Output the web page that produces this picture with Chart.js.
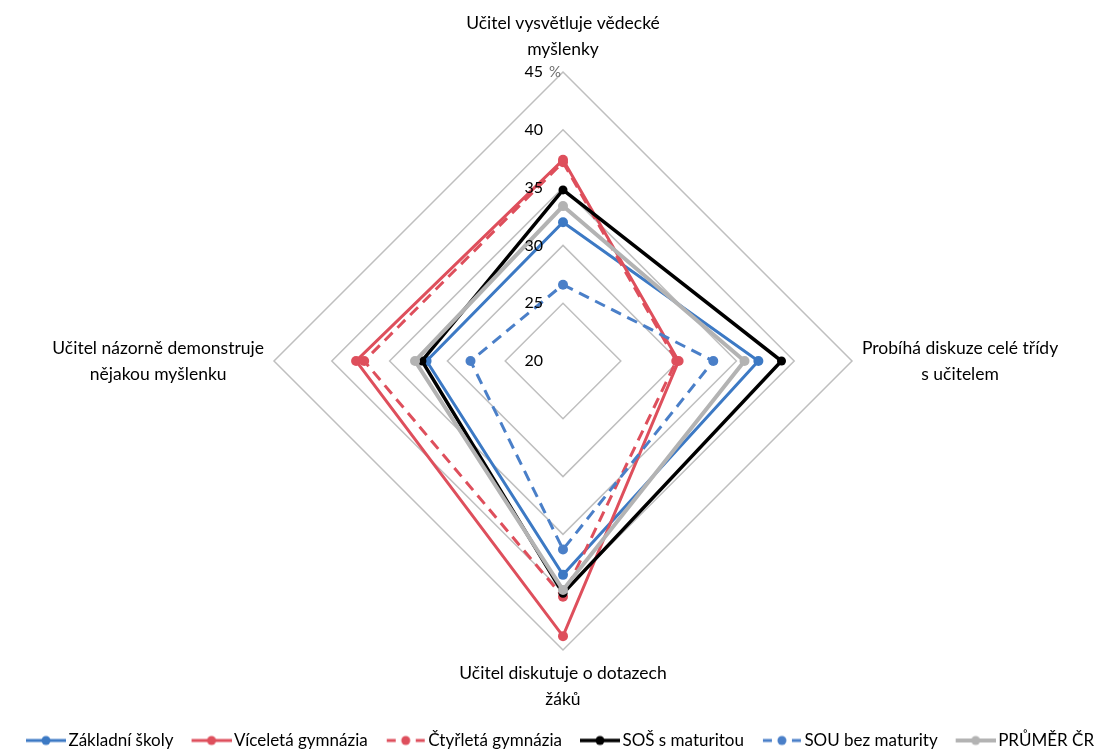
<!DOCTYPE html>
<html lang="cs">
<head>
<meta charset="utf-8">
<title>Radar</title>
<script src="https://cdn.jsdelivr.net/npm/chart.js@4.4.1/dist/chart.umd.min.js"></script>
<style>
  html, body { margin: 0; padding: 0; background: #fff; }
  canvas { display: block; }
</style>
</head>
<body>
<canvas id="radarChart" width="1119" height="751"></canvas>
<script>
const axisLabels = [
  ['Učitel vysvětluje vědecké', 'myšlenky'],
  ['Probíhá diskuze celé třídy', 's učitelem'],
  ['Učitel diskutuje o dotazech', 'žáků'],
  ['Učitel názorně demonstruje', 'nějakou myšlenku']
];
const tickValues = [20, 25, 30, 35, 40, 45];
const unitLabel = '%';

const seriesNames = ['Základní školy', 'Víceletá gymnázia', 'Čtyřletá gymnázia',
  'SOŠ s maturitou', 'SOU bez maturity', 'PRŮMĚR ČR'];
const zakladniSkoly = [32.0, 36.9, 38.5, 31.8];
const viceletaGymnazia = [37.4, 30.0, 43.8, 37.9];
const ctyrletaGymnazia = [37.2, 29.8, 40.4, 37.2];
const sosMaturita = [34.8, 38.9, 40.1, 32.2];
const souBezMaturity = [26.6, 33.0, 36.3, 28.0];
const prumerCR = [33.4, 35.7, 39.8, 32.8];

const FONT = 'Lato, Calibri, sans-serif';
const LABEL_SIZE = 17.5;
const LINE_H = 26;

function setup() {
  const ctx = document.getElementById('radarChart').getContext('2d');

  const styles = [
    { color: '#3c79c4', width: 3, dash: [], radius: 5 },
    { color: '#de4f5c', width: 3, dash: [], radius: 5 },
    { color: '#de4f5c', width: 3, dash: [11, 7], radius: 5 },
    { color: '#000000', width: 3.5, dash: [], radius: 4.5 },
    { color: '#4a7fc8', width: 3, dash: [11, 7], radius: 5 },
    { color: '#b3b3b3', width: 4, dash: [], radius: 5 }
  ];
  const values = [zakladniSkoly, viceletaGymnazia, ctyrletaGymnazia, sosMaturita, souBezMaturity, prumerCR];

  function legendIcon(style) {
    const c = document.createElement('canvas');
    c.width = 54;
    c.height = 14;
    const g = c.getContext('2d');
    g.strokeStyle = style.color;
    g.fillStyle = style.color;
    g.lineWidth = style.width;
    g.beginPath();
    if (style.dash.length) {
      g.moveTo(15, 7); g.lineTo(24, 7);
      g.moveTo(44, 7); g.lineTo(53, 7);
    } else {
      g.moveTo(14, 7); g.lineTo(54, 7);
    }
    g.stroke();
    g.beginPath();
    g.arc(34, 7, 4.5, 0, Math.PI * 2);
    g.fill();
    return c;
  }

  // axis captions (centred lines) and tick numbers left of the vertical axis
  const axisText = {
    id: 'axisText',
    afterDatasetsDraw(chart) {
      const scale = chart.scales.r;
      const c = chart.ctx;
      c.save();
      c.font = LABEL_SIZE + 'px ' + FONT;
      c.fillStyle = '#000';
      c.textBaseline = 'middle';
      c.textAlign = 'center';
      axisLabels.forEach((lines, i) => {
        const box = scale.getPointLabelPosition(i);
        const cx = (box.left + box.right) / 2;
        lines.forEach((line, j) => c.fillText(line, cx, box.top + LINE_H * (j + 0.5)));
      });
      c.font = '16px ' + FONT;
      c.textAlign = 'right';
      tickValues.forEach(v => {
        const y = scale.yCenter - scale.getDistanceFromCenterForValue(v);
        c.fillText(String(v), scale.xCenter - 20, y);
      });
      const yTop = scale.yCenter - scale.getDistanceFromCenterForValue(tickValues[tickValues.length - 1]);
      c.font = '15px ' + FONT;
      c.fillStyle = '#6f6f6f';
      c.textAlign = 'left';
      c.fillText(unitLabel, scale.xCenter - 14, yTop);
      c.restore();
    }
  };

  new Chart(ctx, {
    type: 'radar',
    data: {
      labels: axisLabels,
      datasets: seriesNames.map((name, i) => ({
        label: name,
        data: values[i],
        borderColor: styles[i].color,
        backgroundColor: styles[i].color,
        pointBackgroundColor: styles[i].color,
        pointBorderColor: styles[i].color,
        borderWidth: styles[i].width,
        borderDash: styles[i].dash,
        pointRadius: styles[i].radius,
        pointBorderWidth: 0,
        fill: false,
        tension: 0,
        order: seriesNames.length - i
      }))
    },
    options: {
      responsive: false,
      animation: false,
      devicePixelRatio: 1,
      layout: { padding: { top: 10, bottom: -8, left: 0, right: 7 } },
      scales: {
        r: {
          min: tickValues[0],
          max: tickValues[tickValues.length - 1],
          ticks: { display: false, stepSize: 5 },
          grid: { color: '#bfbfbf', lineWidth: 1.5, circular: false },
          angleLines: { display: false },
          pointLabels: {
            display: true,
            color: 'rgba(0,0,0,0)',
            padding: 10,
            font: { family: FONT, size: LABEL_SIZE, lineHeight: LINE_H / LABEL_SIZE }
          }
        }
      },
      plugins: {
        tooltip: { enabled: false },
        legend: {
          position: 'bottom',
          title: { display: true, text: '', padding: 0, font: { size: 9, lineHeight: 1 } },
          labels: {
            usePointStyle: true,
            pointStyleWidth: 42,
            padding: 10,
            color: '#000',
            font: { family: FONT, size: 17 },
            generateLabels(chart) {
              return chart.data.datasets.map((ds, i) => ({
                text: ds.label,
                pointStyle: legendIcon(styles[i]),
                datasetIndex: i,
                hidden: !chart.isDatasetVisible(i),
                fontColor: '#000',
                lineWidth: 0,
                strokeStyle: 'rgba(0,0,0,0)',
                fillStyle: 'rgba(0,0,0,0)'
              }));
            }
          }
        }
      }
    },
    plugins: [axisText]
  });
}

setup();
</script>
</body>
</html>
